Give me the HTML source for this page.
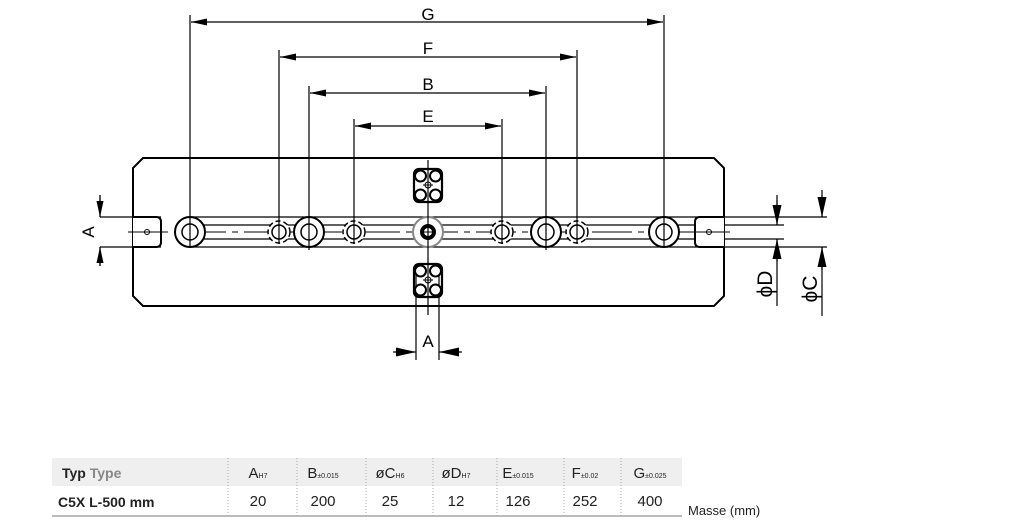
<!DOCTYPE html>
<html><head><meta charset="utf-8"><style>
body{margin:0;background:#fff;width:1018px;height:524px;overflow:hidden}
svg{position:absolute;left:0;top:0}
text{font-family:"Liberation Sans",sans-serif}
</style></head><body>
<svg width="1018" height="524" viewBox="0 0 1018 524">
<defs>
<marker id="ar" viewBox="0 0 10 6" refX="10" refY="3" markerWidth="16" markerHeight="7" markerUnits="userSpaceOnUse" orient="auto" preserveAspectRatio="none"><path d="M0,0 L10,3 L0,6 z" fill="#000"/></marker>
<marker id="ar2" viewBox="0 0 10 6" refX="10" refY="3" markerWidth="20" markerHeight="9" markerUnits="userSpaceOnUse" orient="auto" preserveAspectRatio="none"><path d="M0,0 L10,3 L0,6 z" fill="#000"/></marker>
<g id="blk"><rect x="-14" y="-16" width="28" height="33" rx="5" fill="none" stroke="#000" stroke-width="2.2"/>
<circle cx="-7.5" cy="-9" r="5.5" fill="#fff" stroke="#000" stroke-width="2"/><circle cx="7.5" cy="-9" r="5.5" fill="#fff" stroke="#000" stroke-width="2"/>
<circle cx="-7.5" cy="10" r="5.5" fill="#fff" stroke="#000" stroke-width="2"/><circle cx="7.5" cy="10" r="5.5" fill="#fff" stroke="#000" stroke-width="2"/>
<circle cx="0" cy="0" r="3" fill="none" stroke="#000"/><path d="M-5,0H5M0,-5V5" stroke="#000"/></g>
</defs>
<g stroke="#000" fill="none">
<path d="M143,158 H714 L724,168 V296 L714,306 H143 L133,296 V168 Z" stroke-width="2"/>
<path d="M100,217 H161 M100,247 H161 M190,217 H784 M190,247 H827 M693,217 H827 M200,225 H784 M200,239 H784" stroke-width="1.2"/>
<path d="M128,232 H730" stroke-width="1.1" stroke-dasharray="40,6,6,6"/>
<path d="M133,217 H156 Q161,217 161,222 V242 Q161,247 156,247 H133" stroke-width="2" fill="#fff"/>
<path d="M724,217 H700 Q695,217 695,222 V242 Q695,247 700,247 H724" stroke-width="2" fill="#fff"/>
<circle cx="147" cy="232" r="2.5"/><circle cx="709" cy="232" r="2.5"/>
<path d="M128,232H166M690,232H730" stroke-width="1"/>
<g stroke-width="2" fill="#fff">
<circle cx="190" cy="232" r="15"/><circle cx="309" cy="232" r="15"/><circle cx="546" cy="232" r="15"/><circle cx="664" cy="232" r="15"/>
</g>
<g stroke-width="1.5"><circle cx="190" cy="232" r="8"/><circle cx="309" cy="232" r="8"/><circle cx="546" cy="232" r="8"/><circle cx="664" cy="232" r="8"/></g>
<g stroke-width="1.5" stroke-dasharray="5,3">
<circle cx="279" cy="232" r="11" fill="#fff"/><circle cx="577" cy="232" r="11" fill="#fff"/><circle cx="354" cy="232" r="11" fill="#fff"/><circle cx="502" cy="232" r="11" fill="#fff"/></g>
<g stroke-width="1.5"><circle cx="279" cy="232" r="7"/><circle cx="577" cy="232" r="7"/><circle cx="354" cy="232" r="7"/><circle cx="502" cy="232" r="7"/></g>
<circle cx="428" cy="232" r="15" stroke="#888" stroke-width="2" fill="#fff"/>
<circle cx="428" cy="232" r="6" stroke-width="4"/>
<path d="M424,232H432M428,228V236" stroke-width="1"/>
<g stroke-width="1.2">
<path d="M190,15 V247 M664,15 V247 M279,50 V244 M577,50 V244 M309,86 V250 M546,86 V250 M354,119 V244 M502,119 V244 M428,160 V315"/>
<path d="M416,265 V360 M439,265 V360"/>
<path d="M100,195 V217 M100,247 V266 M777,195 V225 M777,239 V306 M822,190 V217 M822,247 V316"/>
</g>
</g>
<g stroke="#000" stroke-width="1.2" fill="none">
<path d="M426,22 H191" marker-end="url(#ar)"/><path d="M426,22 H663" marker-end="url(#ar)"/>
<path d="M428,57 H280" marker-end="url(#ar)"/><path d="M428,57 H576" marker-end="url(#ar)"/>
<path d="M428,93 H310" marker-end="url(#ar)"/><path d="M428,93 H545" marker-end="url(#ar)"/>
<path d="M428,126 H355" marker-end="url(#ar)"/><path d="M428,126 H501" marker-end="url(#ar)"/>
<path d="M393,352 H416" marker-end="url(#ar2)"/><path d="M462,352 H439" marker-end="url(#ar2)"/>
<path d="M100,195 V217" marker-end="url(#ar)"/><path d="M100,266 V247" marker-end="url(#ar)"/>
<path d="M777,200 V225" marker-end="url(#ar2)"/><path d="M777,262 V239" marker-end="url(#ar2)"/>
<path d="M822,195 V217" marker-end="url(#ar2)"/><path d="M822,270 V247" marker-end="url(#ar2)"/>
</g>
<use href="#blk" x="428" y="185"/>
<use href="#blk" x="428" y="280"/>
<g font-size="17" text-anchor="middle" fill="#000">
<text x="428" y="20">G</text><text x="428" y="54">F</text><text x="428" y="90">B</text><text x="428" y="122">E</text>
<text x="428" y="347">A</text>
<text transform="translate(94,232) rotate(-90)">A</text>
<text transform="translate(772,284) rotate(-90)" font-size="21">ϕD</text>
<text transform="translate(817,289) rotate(-90)" font-size="21">ϕC</text>
</g>
<rect x="52" y="458" width="630" height="28" fill="#efefef"/>
<line x1="52" y1="516" x2="682" y2="516" stroke="#777" stroke-width="1"/>
<g stroke="#aaa" stroke-dasharray="1,2">
<path d="M228,458V516M297,458V516M366,458V516M433,458V516M497,458V516M564,458V516M621,458V516"/>
</g>
<g font-size="14" fill="#222">
<text x="62" y="478" font-weight="bold">Typ <tspan fill="#888">Type</tspan></text>
<text x="58" y="507" font-weight="bold">C5X L-500 mm</text>
</g>
<g font-size="15" text-anchor="middle" fill="#222">
<text x="258" y="478">A<tspan font-size="7">H7</tspan></text>
<text x="323" y="478">B<tspan font-size="7">±0.015</tspan></text>
<text x="390" y="478">øC<tspan font-size="7">H6</tspan></text>
<text x="456" y="478">øD<tspan font-size="7">H7</tspan></text>
<text x="518" y="478">E<tspan font-size="7">±0.015</tspan></text>
<text x="585" y="478">F<tspan font-size="7">±0.02</tspan></text>
<text x="650" y="478">G<tspan font-size="7">±0.025</tspan></text>
<text x="258" y="506">20</text><text x="323" y="506">200</text><text x="390" y="506">25</text><text x="456" y="506">12</text>
<text x="518" y="506">126</text><text x="585" y="506">252</text><text x="650" y="506">400</text>
</g>
<text x="688" y="515" font-size="13" fill="#222">Masse (mm)</text>
</svg>
</body></html>
